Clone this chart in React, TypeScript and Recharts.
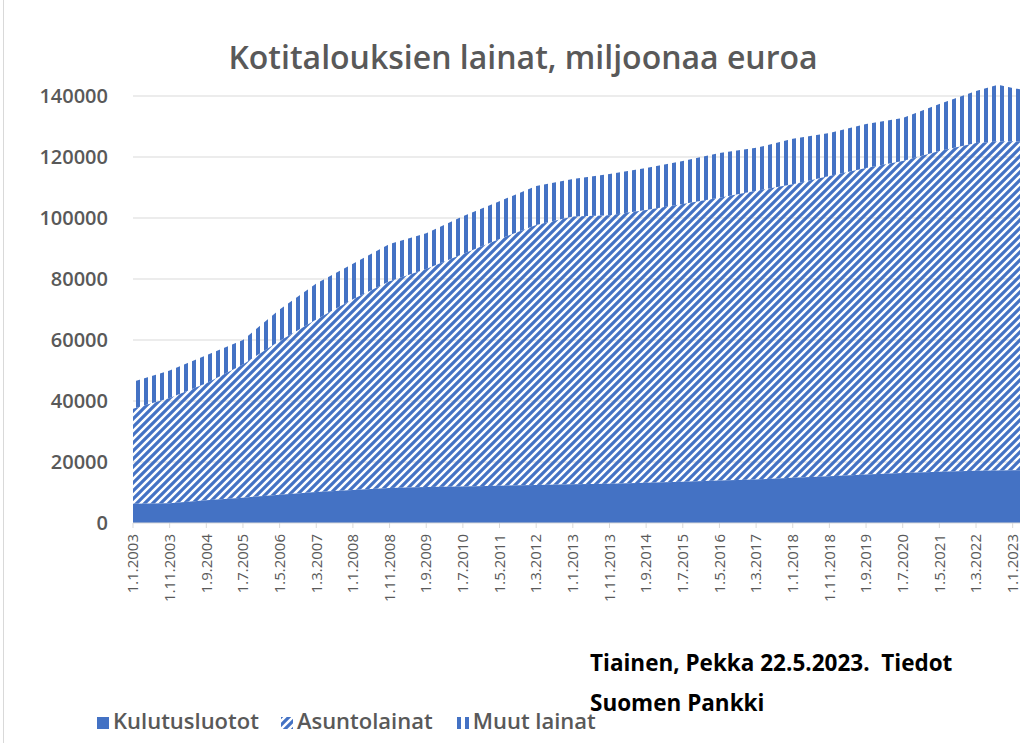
import React from 'react';
import { AreaChart, Area, XAxis, YAxis, CartesianGrid } from 'recharts';

// months counted from 1.1.2003
const monthIndex = [0, 10, 20, 30, 40, 50, 60, 70, 80, 90, 100, 110, 120, 130, 140, 150, 160, 170, 180, 190, 200, 210, 220, 230, 236, 240, 242];
const kulutusluotot = [6300, 6500, 7500, 8300, 9300, 10200, 10800, 11500, 11800, 12000, 12200, 12500, 12700, 12900, 13200, 13500, 13900, 14300, 14800, 15300, 15900, 16400, 16800, 17100, 17200, 17300, 17300];
const asuntolainat = [31200, 34500, 38300, 43700, 50400, 56500, 62600, 67800, 71500, 76200, 80900, 85200, 87800, 88000, 89400, 91100, 92700, 94600, 96300, 98500, 100500, 102300, 105200, 107500, 107900, 107900, 107700];
const muutLainat = [8800, 9000, 9200, 8000, 10300, 11800, 11600, 12200, 11700, 12400, 12400, 12800, 12300, 13500, 13800, 14100, 14700, 14100, 14900, 14100, 14400, 14100, 15400, 17000, 18600, 17400, 17200];

const tickLabels = [
    '1.1.2003', '1.11.2003', '1.9.2004', '1.7.2005', '1.5.2006', '1.3.2007', '1.1.2008', '1.11.2008',
    '1.9.2009', '1.7.2010', '1.5.2011', '1.3.2012', '1.1.2013', '1.11.2013', '1.9.2014', '1.7.2015',
    '1.5.2016', '1.3.2017', '1.1.2018', '1.11.2018', '1.9.2019', '1.7.2020', '1.5.2021', '1.3.2022', '1.1.2023'
];
const tickMonths = tickLabels.map((_, i) => i * 10);
const yTicks = [0, 20000, 40000, 60000, 80000, 100000, 120000, 140000];

const data = monthIndex.map((m, i) => ({
    m,
    kulutus: kulutusluotot[i],
    asunto: asuntolainat[i],
    muut: muutLainat[i],
}));

const BLUE = '#4472C4';
const GRAY = '#595959';
const FONT = '"Open Sans", sans-serif';

const XTick = (props: any) => {
    const { x, y, payload } = props;
    return (
        <g transform={`translate(${x},${y})`}>
            <text transform="rotate(-90)" x={-4} y={0} dy="0.35em" textAnchor="end"
                  fill={GRAY} fontSize={15} fontFamily={FONT}>
                {tickLabels[Math.round(payload.value / 10)]}
            </text>
        </g>
    );
};

const LegendIcon = ({ fill }: { fill: string }) => (
    <svg width={12} height={12} style={{ marginRight: 4, verticalAlign: 'middle' }}>
        <rect x={0} y={0} width={12} height={12} fill={fill} />
    </svg>
);

const App = () => (
    <div style={{ position: 'absolute', left: 0, top: 0, width: 1028, height: 743, background: '#fff', fontFamily: FONT }}>
        <div style={{ position: 'absolute', left: 3, top: 0, width: 1, height: 743, background: '#d9d9d9' }} />
        <AreaChart width={1028} height={743} data={data} margin={{ top: 35, right: 8, left: 0, bottom: 0 }}>
            <defs>
                <pattern id="diagHatch" patternUnits="userSpaceOnUse" width={8} height={8}>
                    <path d="M-2,2 l4,-4 M0,8 l8,-8 M6,10 l4,-4" stroke={BLUE} strokeWidth={3.2} />
                </pattern>
                <pattern id="vStripes" patternUnits="userSpaceOnUse" width={8} height={8}>
                    <rect x={0} y={0} width={4} height={8} fill={BLUE} />
                </pattern>
            </defs>
            <CartesianGrid vertical={false} stroke="#d9d9d9" horizontalValues={yTicks.slice(1)} />
            <XAxis dataKey="m" type="number" domain={[0, 242]} ticks={tickMonths} interval={0}
                   height={220} tick={<XTick />} tickSize={5} tickMargin={2}
                   axisLine={{ stroke: '#d9d9d9' }} tickLine={{ stroke: '#d9d9d9' }} />
            <YAxis type="number" domain={[0, 160000]} ticks={yTicks} width={133} axisLine={false}
                   tickLine={false} tickSize={0} tickMargin={25}
                   tick={{ fill: GRAY, fontSize: 20, fontFamily: FONT, fontWeight: 600 }} />
            <Area type="linear" dataKey="kulutus" stackId="1" stroke="none" fill={BLUE} fillOpacity={1} isAnimationActive={false} />
            <Area type="linear" dataKey="asunto" stackId="1" stroke="none" fill="url(#diagHatch)" fillOpacity={1} isAnimationActive={false} />
            <Area type="linear" dataKey="muut" stackId="1" stroke="none" fill="url(#vStripes)" fillOpacity={1} isAnimationActive={false} />
        </AreaChart>
        <div style={{ position: 'absolute', left: 0, top: 35, width: 1046, textAlign: 'center', fontSize: 32, fontWeight: 600, color: GRAY, lineHeight: '44px' }}>
            Kotitalouksien lainat, miljoonaa euroa
        </div>
        <div style={{ position: 'absolute', left: 590, top: 643, fontSize: 22.5, fontWeight: 700, color: '#000', lineHeight: '40px' }}>
            <div>Tiainen, Pekka 22.5.2023.&nbsp; Tiedot</div>
            <div>Suomen Pankki</div>
        </div>
        <div style={{ position: 'absolute', left: 97, top: 705, fontSize: 22, fontWeight: 600, color: GRAY, lineHeight: '30px', whiteSpace: 'nowrap' }}>
            <span style={{ marginRight: 22 }}><LegendIcon fill={BLUE} />Kulutusluotot</span>
            <span style={{ marginRight: 24 }}><LegendIcon fill="url(#diagHatch)" />Asuntolainat</span>
            <span><LegendIcon fill="url(#vStripes)" />Muut lainat</span>
        </div>
    </div>
);

export default App;
